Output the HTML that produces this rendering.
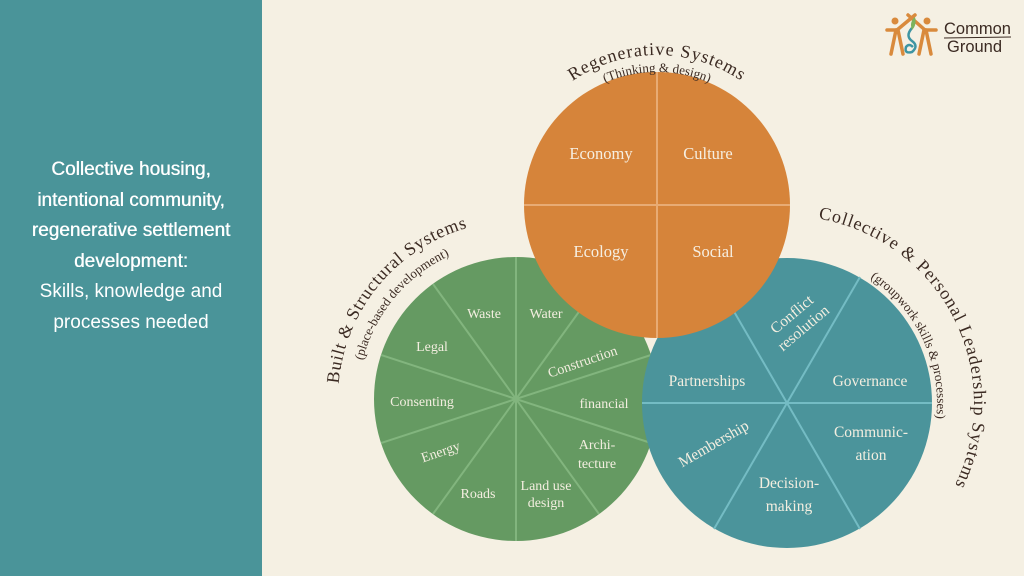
<!DOCTYPE html>
<html><head><meta charset="utf-8"><style>
html,body{margin:0;padding:0}
body{width:1024px;height:576px;background:#f5f0e3;position:relative;overflow:hidden;font-family:"Liberation Sans",sans-serif}
#left{position:absolute;left:0;top:0;width:262px;height:576px;background:#4a9499}
#lt{position:absolute;left:0;width:262px;top:155px;text-align:center;color:#fff;font-size:19px;line-height:30.5px}
</style></head><body>
<div id="left"><div id="lt"><span style="text-shadow:0.4px 0 0 #fff">Collective housing,<br>intentional community,<br>regenerative settlement<br>development:</span><br>Skills, knowledge and<br>processes needed</div></div>
<svg width="1024" height="576" style="position:absolute;left:0;top:0" font-family="Liberation Serif, serif">
<defs>
<path id="pg" d="M338,399 A178,178 0 1 1 694,399 A178,178 0 1 1 338,399"/>
<path id="pg2" d="M358,399 A158,158 0 1 1 674,399 A158,158 0 1 1 358,399"/>
<path id="po" d="M507,205 A150,150 0 1 1 807,205 A150,150 0 1 1 507,205"/>
<path id="po2" d="M524,205 A133,133 0 1 1 790,205 A133,133 0 1 1 524,205"/>
<path id="pt" d="M600,403 A187,187 0 1 1 974,403 A187,187 0 1 1 600,403"/>
<path id="pt2" d="M637,403 A150,150 0 1 1 937,403 A150,150 0 1 1 637,403"/>
</defs>
<circle cx="516" cy="399" r="142" fill="#659a62"/>
<g stroke="#82b57e" stroke-width="2">
<line x1="516" y1="257" x2="516" y2="541"/>
<line x1="381" y1="355" x2="651" y2="443"/>
<line x1="381" y1="443" x2="651" y2="355"/>
<line x1="433" y1="284" x2="599" y2="514"/>
<line x1="433" y1="514" x2="599" y2="284"/>
</g>
<circle cx="787" cy="403" r="145" fill="#4b949b"/>
<g stroke="#74bcc4" stroke-width="2">
<line x1="642" y1="403" x2="932" y2="403"/>
<line x1="714" y1="277" x2="860" y2="529"/>
<line x1="714" y1="529" x2="860" y2="277"/>
</g>
<circle cx="657" cy="205" r="133" fill="#d6843a"/>
<g stroke="#e8ab74" stroke-width="2">
<line x1="657" y1="72" x2="657" y2="338"/>
<line x1="524" y1="205" x2="790" y2="205"/>
</g>
<g fill="#f6efe2" font-size="16.5" text-anchor="middle">
<text x="601" y="159">Economy</text>
<text x="708" y="159">Culture</text>
<text x="601" y="257">Ecology</text>
<text x="713" y="257">Social</text>
</g>
<g fill="#f3eee0" font-size="14" text-anchor="middle">
<text x="484" y="318">Waste</text>
<text x="546" y="318">Water</text>
<text x="432" y="351">Legal</text>
<text transform="translate(584,366) rotate(-19)">Construction</text>
<text x="422" y="406">Consenting</text>
<text x="604" y="408">financial</text>
<text transform="translate(442,456) rotate(-19)">Energy</text>
<text x="597" y="449">Archi-</text>
<text x="597" y="468">tecture</text>
<text x="478" y="498">Roads</text>
<text x="546" y="490">Land use</text>
<text x="546" y="507">design</text>
</g>
<g fill="#f3eee0" font-size="15.5" text-anchor="middle">
<text transform="translate(795,318) rotate(-40)"><tspan x="0" y="0">Conflict</tspan><tspan x="0" y="18">resolution</tspan></text>
<text x="707" y="386">Partnerships</text>
<text x="870" y="386">Governance</text>
<text transform="translate(716,448) rotate(-30)">Membership</text>
<text x="871" y="437">Communic-</text>
<text x="871" y="460">ation</text>
<text x="789" y="488">Decision-</text>
<text x="789" y="511">making</text>
</g>
<g fill="#3b2a22" text-anchor="middle">
<text font-size="18" letter-spacing="0.8"><textPath href="#pg" startOffset="11%">Built &amp; Structural Systems</textPath></text>
<text font-size="13"><textPath href="#pg2" startOffset="11%">(place-based development)</textPath></text>
<text font-size="18" letter-spacing="1"><textPath href="#po" startOffset="25%">Regenerative Systems</textPath></text>
<text font-size="13"><textPath href="#po2" startOffset="25%">(Thinking &amp; design)</textPath></text>
<text font-size="18" letter-spacing="1"><textPath href="#pt" startOffset="42.5%">Collective &amp; Personal Leadership Systems</textPath></text>
<text font-size="13"><textPath href="#pt2" startOffset="43%">(groupwork skills &amp; processes)</textPath></text>
</g>
<g stroke="#d98a3c" stroke-width="3.5" stroke-linecap="round" fill="none">
<line x1="891" y1="54" x2="896" y2="30"/><line x1="903" y1="54" x2="898" y2="30"/>
<line x1="887" y1="30" x2="897" y2="30"/><line x1="897" y1="30" x2="915" y2="15"/>
<line x1="931" y1="54" x2="926" y2="30"/><line x1="919" y1="54" x2="924" y2="30"/>
<line x1="936" y1="30" x2="925" y2="30"/><line x1="925" y1="30" x2="908" y2="15"/>
</g>
<circle cx="895" cy="21" r="3.5" fill="#d98a3c"/><circle cx="927" cy="21" r="3.5" fill="#d98a3c"/>
<path d="M912,28 Q905,36 912,41 Q919,46 912,52 Q904,54 906,47 Q909,43 913,47" stroke="#3e95a3" stroke-width="2.5" fill="none"/>
<path d="M912,30 Q909,22 915,17 Q917,25 912,30" fill="#7bb35c"/>
<g fill="#3b2a22" font-family="Liberation Sans, sans-serif" font-size="16.5">
<text x="944" y="34">Common</text>
<text x="947" y="52">Ground</text>
</g>
<line x1="944" y1="38" x2="1011" y2="37" stroke="#3b2a22" stroke-width="1"/>
</svg>
</body></html>
